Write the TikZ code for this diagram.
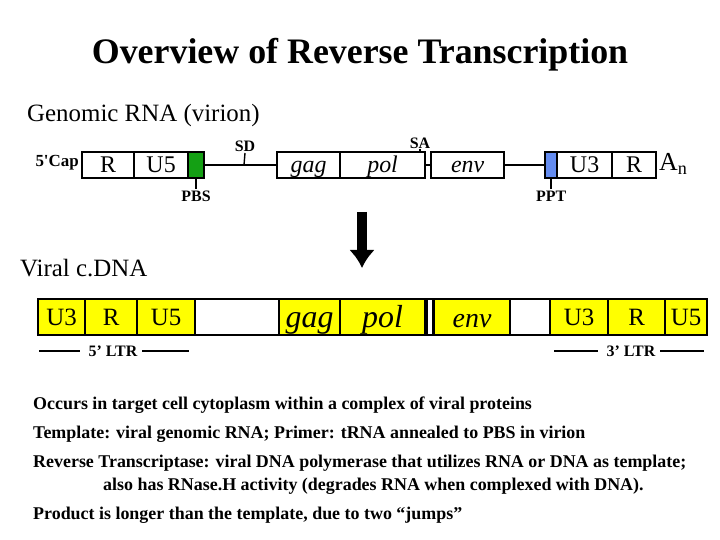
\documentclass[tikz,border=0pt]{standalone}
\usepackage{fontspec}
\setmainfont{Liberation Serif}
\usetikzlibrary{positioning,arrows.meta}
\definecolor{ybox}{RGB}{255,255,0}
\definecolor{pbsgreen}{RGB}{20,160,20}
\definecolor{pptblue}{RGB}{100,140,240}
\tikzset{
  seg/.style={draw=black, line width=2.2pt, minimum height=#1, inner sep=0pt, anchor=west, text depth=0bp},
  rna/.style={seg=26bp, text height=16bp, font=\fontsize{24}{24}\selectfont},
  dna/.style={seg=36bp, text height=17bp, fill=ybox, font=\fontsize{25}{25}\selectfont},
  big/.style={text height=21bp, font=\itshape\fontsize{#1}{#1}\selectfont},
  lbl/.style={font=\bfseries\fontsize{16}{16}\selectfont, inner sep=1pt},
  note/.style={font=\bfseries\fontsize{18}{20}\selectfont, anchor=west, inner sep=0pt}
}
\begin{document}
\begin{tikzpicture}[x=1bp,y=-1bp]
  \useasboundingbox (0,0) rectangle (720,540);
  \node[font=\bfseries\fontsize{36}{36}\selectfont] (title) at (360,55) {Overview of Reverse Transcription};
  \node[anchor=west, font=\fontsize{25}{25}\selectfont, inner sep=0pt] (grna) at (27,116) {Genomic RNA (virion)};
  % genomic RNA
  \node[anchor=east, font=\bfseries\fontsize{17}{17}\selectfont, inner sep=1pt] (cap) at (80,163) {5\textquotesingle Cap};
  \node[rna, minimum width=52bp] (r1) at (81,165) {R};
  \node[rna, minimum width=54bp] (u51) at (133,165) {U5};
  \node[rna, minimum width=16bp, fill=pbsgreen] (pbs) at (187,165) {};
  \node[rna, minimum width=63bp] (gag1) at (276,165) {\itshape gag};
  \node[rna, minimum width=85bp] (pol1) at (339,165) {\itshape pol};
  \node[rna, minimum width=73bp] (env1) at (430,165) {\itshape env};
  \node[rna, minimum width=12bp, fill=pptblue] (ppt) at (544,165) {};
  \node[rna, minimum width=55bp] (u31) at (556,165) {U3};
  \node[rna, minimum width=44bp] (r2) at (611,165) {R};
  \node[anchor=west, font=\fontsize{26}{26}\selectfont, inner sep=1pt] (an) at (658,164) {A\textsubscript{n}};
  \draw[line width=2.2pt] (pbs.east) -- (gag1.west);
  \draw[line width=2.2pt] (pol1.east) -- (env1.west);
  \draw[line width=2.2pt] (env1.east) -- (ppt.west);
  \coordinate (sd) at (244,165);
  \coordinate (sa) at (420,152);
  \draw[line width=1.4pt] (sd) -- ++(1,-12) node[lbl, above] (sdl) {SD};
  \draw[line width=1.4pt] (sa) -- ++(0,-3) node[lbl, above, inner sep=0pt] (sal) {SA};
  \draw[line width=1.4pt] (pbs.south) -- ++(0,10) node[lbl, below] (pbsl) {PBS};
  \draw[line width=1.4pt] (ppt.south) -- ++(0,10) node[lbl, below] (pptl) {PPT};
  % arrow
  \coordinate (atop) at (362,212);
  \coordinate (abot) at (362,268);
  \draw[line width=10bp, -{Latex[length=18bp, width=26bp]}] (atop) -- (abot);
  \node[anchor=west, font=\fontsize{25}{25}\selectfont, inner sep=0pt] (vdna) at (20,268) {Viral c.DNA};
  % viral cDNA
  \node[dna, minimum width=47bp] (u3a) at (37,317) {U3};
  \node[dna, minimum width=52bp] (ra) at (84,317) {R};
  \node[dna, minimum width=58bp] (u5a) at (136,317) {U5};
  \node[dna, minimum width=84bp, fill=white] (gap1) at (194,317) {};
  \node[dna, big=32, minimum width=61bp] (gag2) at (278,317) {gag};
  \node[dna, big=32, minimum width=85bp] (pol2) at (339,317) {pol};
  \node[dna, minimum width=6bp, fill=white] (gap2) at (426,317) {};
  \node[dna, big=28, minimum width=76bp] (env2) at (433,317) {env};
  \node[dna, minimum width=40bp, fill=white] (gap3) at (509,317) {};
  \node[dna, minimum width=58bp] (u3b) at (549,317) {U3};
  \node[dna, minimum width=57bp] (rb) at (607,317) {R};
  \node[dna, minimum width=42bp] (u5b) at (664,317) {U5};
  % LTR labels
  \node[lbl] (ltr5) at (113,351) {5’ LTR};
  \node[lbl] (ltr3) at (631,351) {3’ LTR};
  \coordinate (l5a) at (39,351); \coordinate (l5b) at (189,351);
  \coordinate (l3a) at (554,351); \coordinate (l3b) at (704,351);
  \draw[line width=2.5pt] (l5a) -- ([xshift=-8bp]ltr5.west) ([xshift=4bp]ltr5.east) -- (l5b);
  \draw[line width=2.5pt] (l3a) -- ([xshift=-8bp]ltr3.west) ([xshift=4bp]ltr3.east) -- (l3b);
  % notes
  \node[note] (n1) at (33,405) {Occurs in target cell cytoplasm within a complex of viral proteins};
  \node[note] (n2) at (33,434) {Template: viral genomic RNA; Primer: tRNA annealed to PBS in virion};
  \node[note] (n3) at (33,463) {Reverse Transcriptase: viral DNA polymerase that utilizes RNA or DNA as template;};
  \node[note] (n4) at (103,486) {also has RNase.H activity (degrades RNA when complexed with DNA).};
  \node[note] (n5) at (33,515) {Product is longer than the template, due to two “jumps”};
\end{tikzpicture}
\end{document}
